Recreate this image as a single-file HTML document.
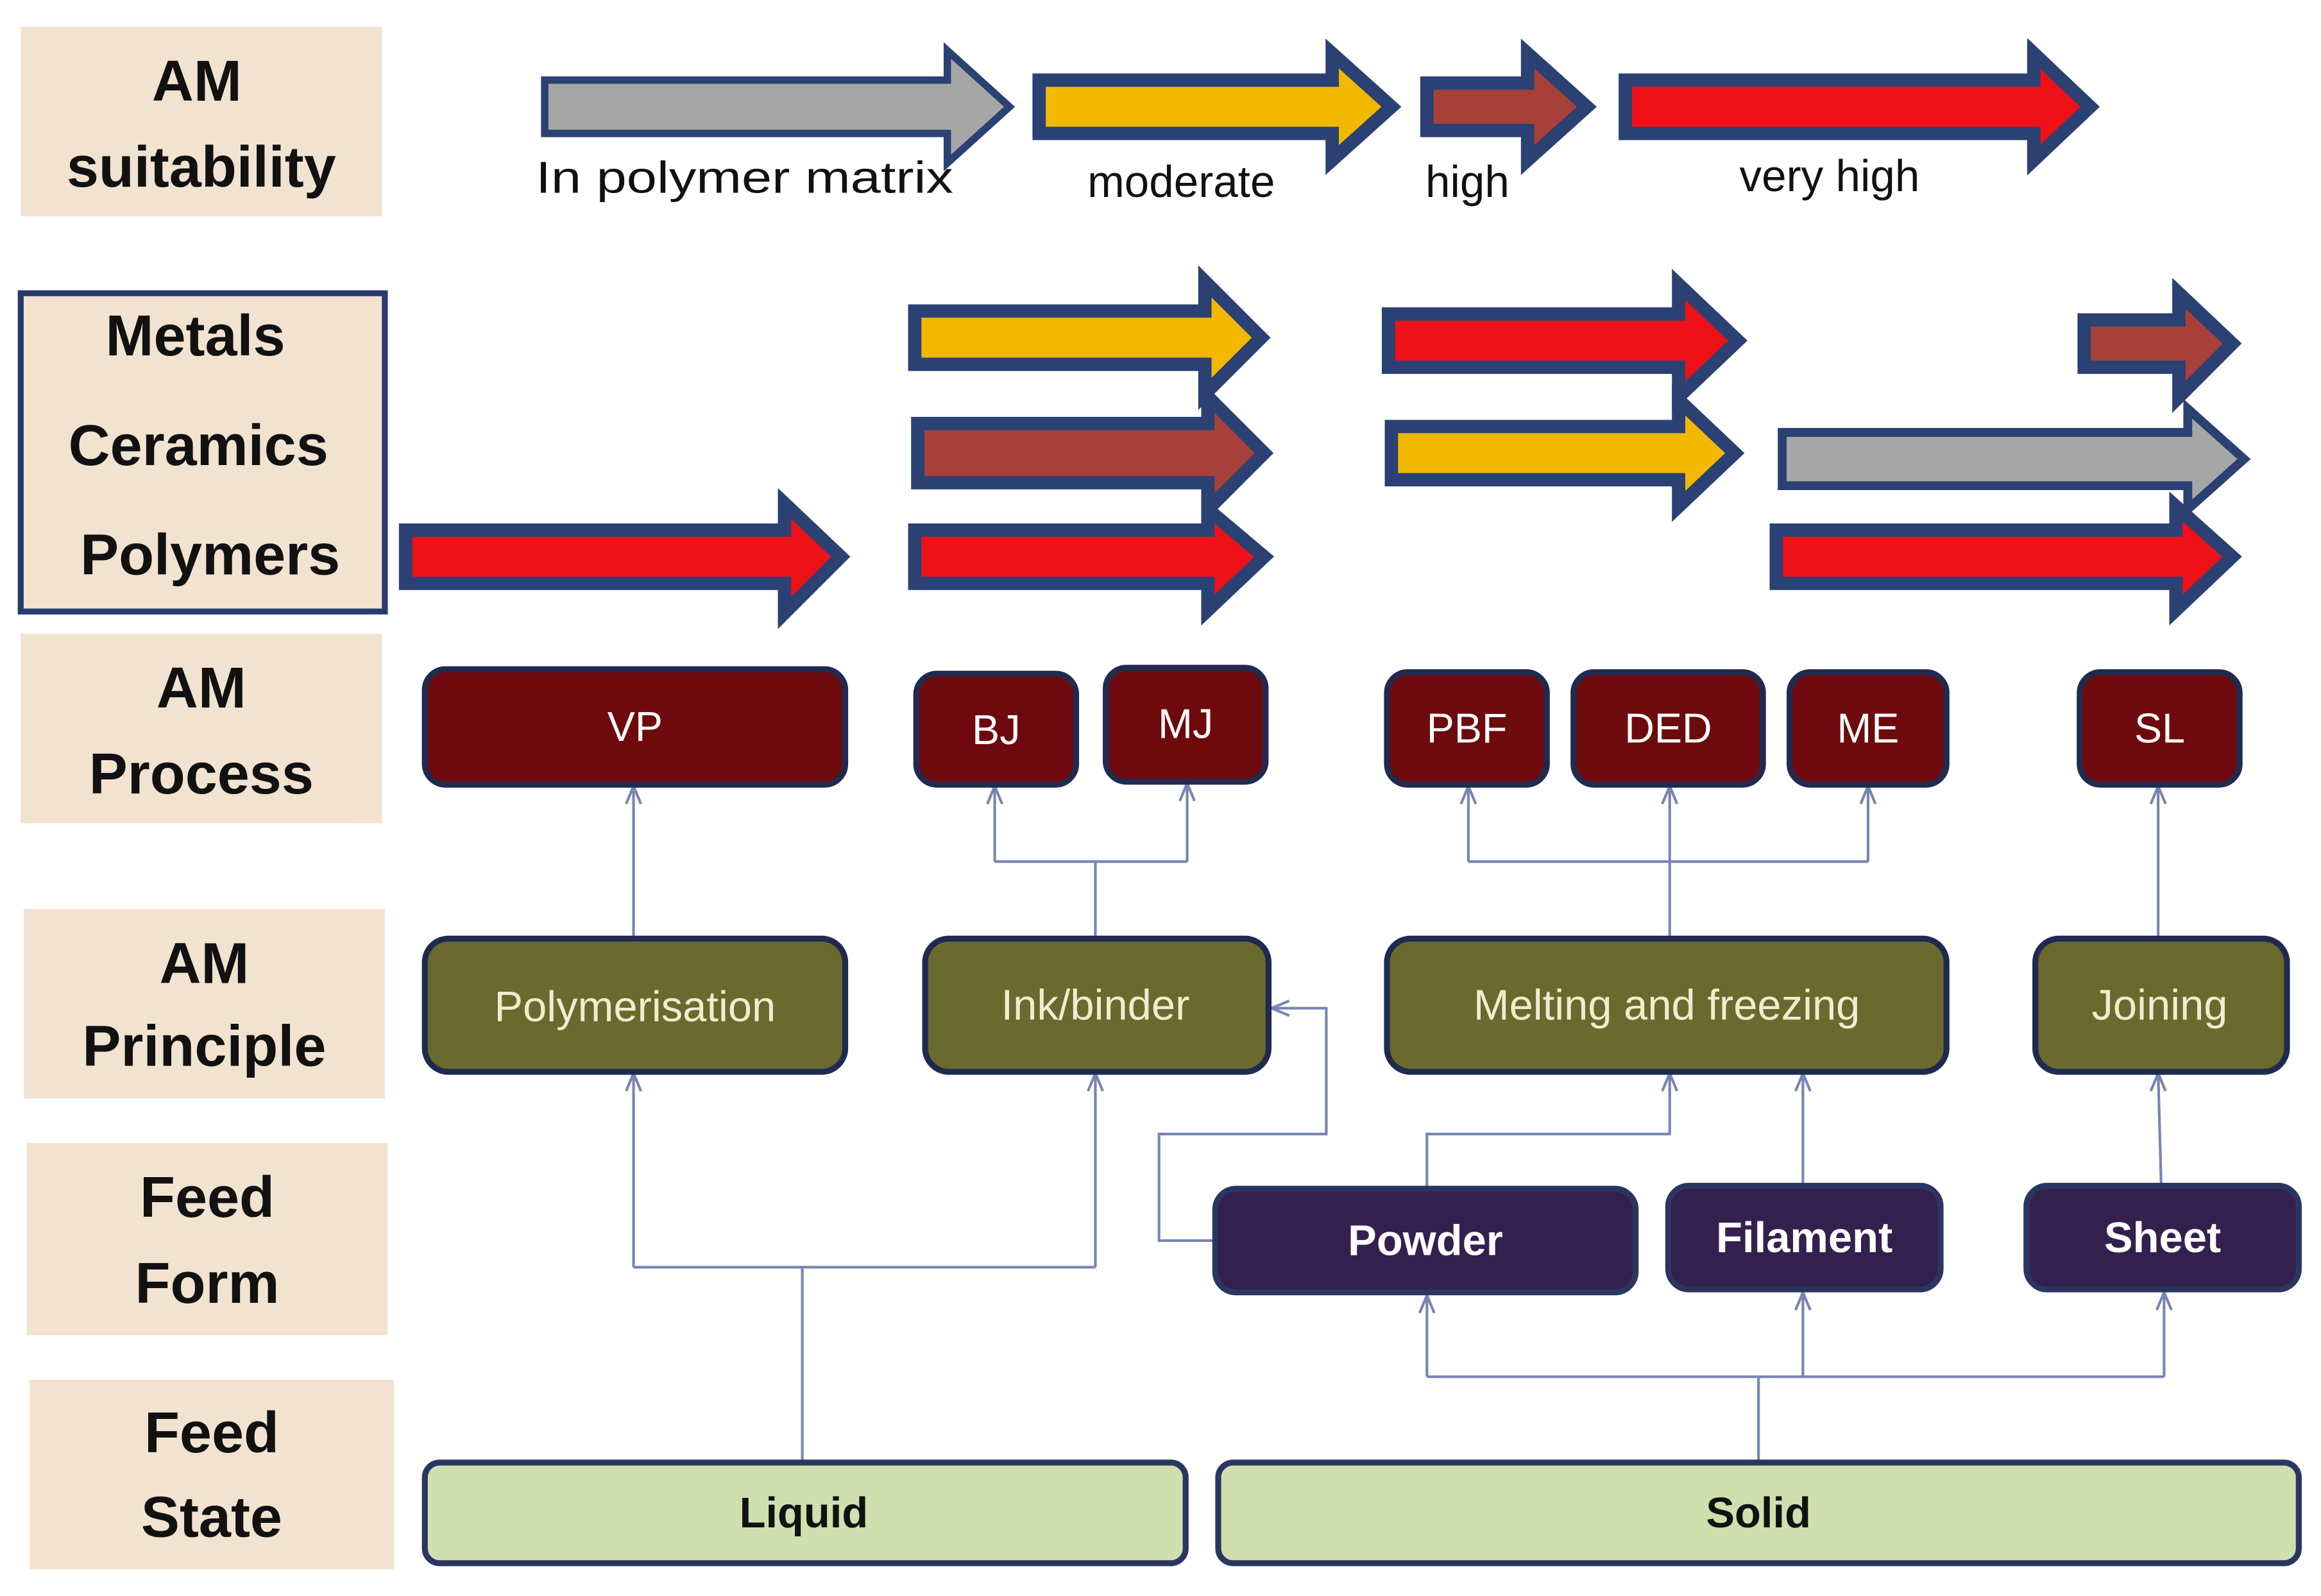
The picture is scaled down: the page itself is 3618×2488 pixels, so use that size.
<!DOCTYPE html>
<html><head><meta charset="utf-8"><style>
html,body{margin:0;padding:0;background:#fff;}
svg{display:block;}
.lbl{font-family:"Liberation Sans",sans-serif;font-weight:bold;font-size:39px;fill:#111;text-anchor:middle;}
.bt{font-family:"Liberation Sans",sans-serif;font-size:28px;fill:#fff;text-anchor:middle;dominant-baseline:central;}
.pt{font-family:"Liberation Sans",sans-serif;font-size:29px;fill:#f0ecd0;text-anchor:middle;dominant-baseline:central;}
.ft{font-family:"Liberation Sans",sans-serif;font-size:29px;font-weight:bold;fill:#fff;text-anchor:middle;dominant-baseline:central;}
.st{font-family:"Liberation Sans",sans-serif;font-size:29px;font-weight:bold;fill:#111;text-anchor:middle;dominant-baseline:central;}
.at{font-family:"Liberation Sans",sans-serif;font-size:30px;fill:#111;}
.c{fill:none;stroke:#7884b4;stroke-width:1.8;}
.ah{fill:none;stroke:#7884b4;stroke-width:1.8;}
</style></head><body>
<svg width="3618" height="2488" viewBox="0 0 1568 1078" xmlns="http://www.w3.org/2000/svg">
<rect width="1568" height="1078" fill="#fff"/>
<rect x="14" y="18" width="244" height="128" fill="#f1e3d0"/>
<text class="lbl" x="133" y="68">AM</text><text class="lbl" x="136" y="126">suitability</text>
<rect x="14" y="198" width="246" height="215" fill="#f1e3d0" stroke="#273b70" stroke-width="4"/>
<text class="lbl" x="132" y="240">Metals</text><text class="lbl" x="134" y="314">Ceramics</text><text class="lbl" x="142" y="388">Polymers</text>
<rect x="14" y="428" width="244" height="128" fill="#f1e3d0"/>
<text class="lbl" x="136" y="478">AM</text><text class="lbl" x="136" y="536">Process</text>
<rect x="16" y="614" width="244" height="128" fill="#f1e3d0"/>
<text class="lbl" x="138" y="664">AM</text><text class="lbl" x="138" y="720">Principle</text>
<rect x="18" y="772" width="244" height="130" fill="#f1e3d0"/>
<text class="lbl" x="140" y="822">Feed</text><text class="lbl" x="140" y="880">Form</text>
<rect x="20" y="932" width="246" height="128" fill="#f1e3d0"/>
<text class="lbl" x="143" y="981">Feed</text><text class="lbl" x="143" y="1038">State</text>

<g stroke="#2b4173" stroke-width="9" stroke-linejoin="miter">
<polygon fill="#a6a6a6" stroke-width="5" points="368,54 640,54 640,34 682,72 640,110 640,90 368,90"/>
<polygon fill="#f2b800" points="702,54 900,54 900,36 940,72 900,108 900,90 702,90"/>
<polygon fill="#a8403a" points="964,56 1032,56 1032,36 1072,72 1032,108 1032,88 964,88"/>
<polygon fill="#ee1118" points="1098,54 1374,54 1374,36 1412,72 1374,108 1374,90 1098,90"/>
<polygon fill="#f2b800" points="618,210 814,210 814,190 852,228 814,266 814,246 618,246"/>
<polygon fill="#ee1118" points="938,212 1134,212 1134,192 1174,230 1134,268 1134,248 938,248"/>
<polygon fill="#a8403a" points="1408,216 1472,216 1472,198 1508,232 1472,268 1472,248 1408,248"/>
<polygon fill="#a8403a" points="620,286 816,286 816,268 854,306 816,344 816,326 620,326"/>
<polygon fill="#f2b800" points="940,288 1134,288 1134,270 1172,306 1134,342 1134,324 940,324"/>
<polygon fill="#a6a6a6" stroke-width="6" points="1204,292 1478,292 1478,276 1516,310 1478,344 1478,328 1204,328"/>
<polygon fill="#ee1118" points="274,358 530,358 530,340 568,376 530,414 530,394 274,394"/>
<polygon fill="#ee1118" points="618,358 816,358 816,344 854,376 816,412 816,394 618,394"/>
<polygon fill="#ee1118" points="1200,358 1470,358 1470,342 1508,376 1470,412 1470,394 1200,394"/>
</g>
<text class="at" x="362" y="130" textLength="282" lengthAdjust="spacingAndGlyphs">In polymer matrix</text>
<text class="at" x="798" y="133" text-anchor="middle">moderate</text>
<text class="at" x="963" y="133">high</text>
<text class="at" x="1236" y="129" text-anchor="middle">very high</text>

<g>
<path class="c" d="M428,634 V531"/>
<path class="c" d="M740,634 V582 M672,582 H802 M672,582 V531 M802,582 V529"/>
<path class="c" d="M1128,634 V531 M992,582 H1262 M992,582 V531 M1262,582 V531"/>
<path class="c" d="M1458,634 V531"/>
<path class="c" d="M542,988 V856 M428,856 H740 M428,856 V725 M740,856 V725"/>
<path class="c" d="M820,838 H783 V766 H896 V681 H859"/>
<path class="c" d="M964,802 V766 H1128 V725"/>
<path class="c" d="M1218,800 V725"/>
<path class="c" d="M1460,800 L1458,725"/>
<path class="c" d="M1188,988 V930 M964,930 H1462 M964,930 V875 M1218,930 V873 M1462,930 V873"/>
<g class="ah">
<path d="M423,543 L428,531 L433,543"/>
<path d="M667,543 L672,531 L677,543"/>
<path d="M797,541 L802,529 L807,541"/>
<path d="M987,543 L992,531 L997,543"/>
<path d="M1123,543 L1128,531 L1133,543"/>
<path d="M1257,543 L1262,531 L1267,543"/>
<path d="M1453,543 L1458,531 L1463,543"/>
<path d="M423,737 L428,725 L433,737"/>
<path d="M735,737 L740,725 L745,737"/>
<path d="M871,676 L859,681 L871,686"/>
<path d="M1123,737 L1128,725 L1133,737"/>
<path d="M1213,737 L1218,725 L1223,737"/>
<path d="M1453,737 L1458,725 L1463,737"/>
<path d="M959,887 L964,875 L969,887"/>
<path d="M1213,885 L1218,873 L1223,885"/>
<path d="M1457,885 L1462,873 L1467,885"/>
</g>
</g>

<g fill="#6e0a0e" stroke="#1f2a50" stroke-width="4">
<rect x="287" y="452" width="284" height="78" rx="14"/>
<rect x="619" y="455" width="108" height="75" rx="14"/>
<rect x="747" y="451" width="108" height="77" rx="14"/>
<rect x="937" y="454" width="108" height="76" rx="14"/>
<rect x="1063" y="454" width="128" height="76" rx="14"/>
<rect x="1209" y="454" width="106" height="76" rx="14"/>
<rect x="1405" y="454" width="108" height="76" rx="14"/>
</g>
<text class="bt" x="429" y="491">VP</text>
<text class="bt" x="673" y="493">BJ</text>
<text class="bt" x="801" y="489">MJ</text>
<text class="bt" x="991" y="492">PBF</text>
<text class="bt" x="1127" y="492">DED</text>
<text class="bt" x="1262" y="492">ME</text>
<text class="bt" x="1459" y="492">SL</text>

<g fill="#6b6a2e" stroke="#1f2a50" stroke-width="4">
<rect x="287" y="634" width="284" height="90" rx="16"/>
<rect x="625" y="634" width="232" height="90" rx="16"/>
<rect x="937" y="634" width="378" height="90" rx="16"/>
<rect x="1375" y="634" width="170" height="90" rx="16"/>
</g>
<text class="pt" x="429" y="680">Polymerisation</text>
<text class="pt" x="740" y="679">Ink/binder</text>
<text class="pt" x="1126" y="679">Melting and freezing</text>
<text class="pt" x="1459" y="679">Joining</text>

<g fill="#33204f" stroke="#2a3660" stroke-width="4">
<rect x="821" y="803" width="284" height="70" rx="14"/>
<rect x="1127" y="801" width="184" height="70" rx="14"/>
<rect x="1369" y="801" width="184" height="70" rx="14"/>
</g>
<text class="ft" x="963" y="838">Powder</text>
<text class="ft" x="1219" y="836">Filament</text>
<text class="ft" x="1461" y="836">Sheet</text>

<g fill="#cfdfae" stroke="#2a3660" stroke-width="4">
<rect x="287" y="988" width="514" height="68" rx="10"/>
<rect x="823" y="988" width="730" height="68" rx="10"/>
</g>
<text class="st" x="543" y="1022">Liquid</text>
<text class="st" x="1188" y="1022">Solid</text>
</svg>
</body></html>
